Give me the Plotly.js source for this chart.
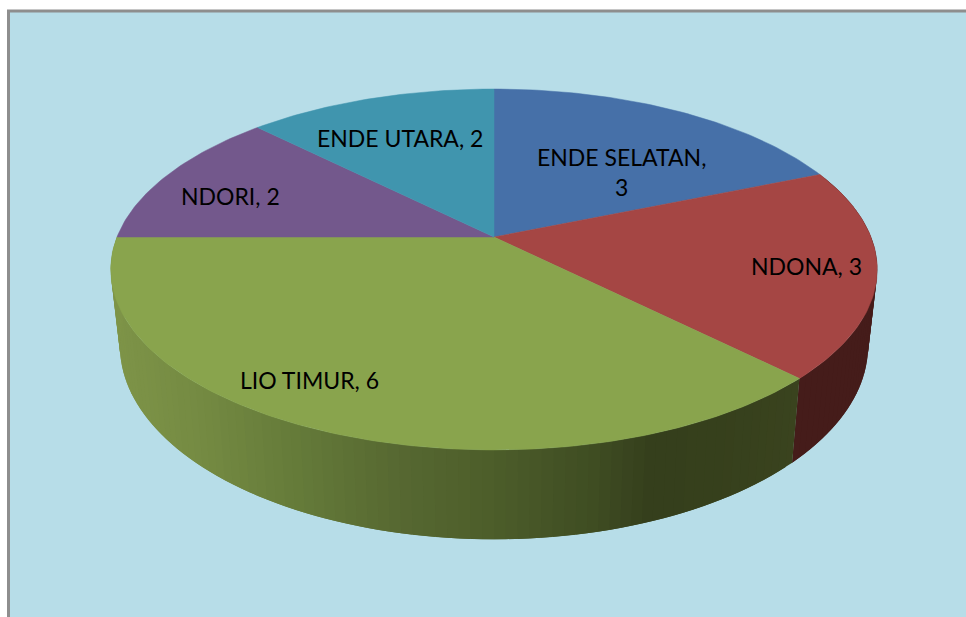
<!DOCTYPE html>
<html>
<head>
<meta charset="utf-8">
<script src="https://cdn.plot.ly/plotly-3.0.1.min.js"></script>
<style>html,body{margin:0;padding:0;background:#fff;overflow:hidden}#chart{width:966px;height:617px}</style>
</head>
<body>
<div id="chart"></div>
<script>
const categories = ["ENDE SELATAN", "NDONA", "LIO TIMUR", "NDORI", "ENDE UTARA"];
const values = [3, 3, 6, 2, 2];
const topColors = ["#4670A8", "#A54644", "#89A44D", "#73588C", "#4095AE"];
const labelTexts = ["ENDE SELATAN,<br>3", "NDONA, 3", "LIO TIMUR, 6", "NDORI, 2", "ENDE UTARA, 2"];
const labelX = [621, 806, 309.5, 230, 400];
const labelY = [171.5, 265.5, 379.5, 195.5, 137.5];
const wallStopsX = [110, 200, 300, 400, 480, 600, 650, 720, 800];
const wallStopsRGB = [[126,148,72],[116,138,66],[100,122,57],[86,104,49],[78,95,43],[62,76,34],[53,63,28],[54,64,28],[58,67,30]];
const redWall = "#451C1A";

// projection of the pie disc on the page
const K = 0.18, CX = 494;
const topRing = {B: 377, A: 174.6, Y0: 237};
const lowRing = {B: 368, A: 187.2, Y0: 311};
function proj(ring, deg) {
  const r = deg * Math.PI / 180, u = Math.sin(r), v = Math.cos(r), w = 1 + K * v;
  return [CX + ring.B * u / w, ring.Y0 - ring.A * v / w];
}
function wallColor(x) {
  let i = 0;
  while (i < wallStopsX.length - 2 && x > wallStopsX[i + 1]) i++;
  const t = Math.max(0, Math.min(1, (x - wallStopsX[i]) / (wallStopsX[i + 1] - wallStopsX[i])));
  const c = wallStopsRGB[i].map((a, j) => Math.round(a + (wallStopsRGB[i + 1][j] - a) * t));
  return `rgb(${c[0]},${c[1]},${c[2]})`;
}
function poly(xs, ys, color, width) {
  return {type: "scatter", mode: "lines", x: xs, y: ys, fill: "toself", fillcolor: color,
          line: {color: color, width: width}, hoverinfo: "skip", showlegend: false};
}
const total = values.reduce((a, b) => a + b, 0);
const edges = [0];
values.forEach(v => edges.push(edges[edges.length - 1] + v / total * 360));

function arc(ring, d0, d1, steps) {
  const out = [];
  for (let s = 0; s <= steps; s++) out.push(proj(ring, d0 + (d1 - d0) * s / steps));
  return out;
}

const traces = [];
// walls: NDONA then LIO TIMUR; each strip runs under the next one so no seams show
function wall(a0, a1, colorFn) {
  const step = 1.5, n = Math.max(1, Math.round((a1 - a0) / step));
  for (let i = 0; i < n; i++) {
    const d0 = a0 + (a1 - a0) * i / n, d1 = d0 + (a1 - a0) / n, d2 = Math.min(a1, d1 + step);
    const up = arc(topRing, d0, d2, 4), low = arc(lowRing, d0, d2, 4).reverse();
    const p = up.concat(low); p.push(p[0]);
    const mx = (proj(topRing, d0)[0] + proj(topRing, d1)[0]) / 2;
    traces.push(poly(p.map(q => q[0]), p.map(q => q[1]), colorFn(mx), 0));
  }
}
wall(edges[1], edges[2], () => redWall);
wall(edges[2], edges[3], wallColor);
// top faces
values.forEach((v, i) => {
  const pts = [[CX, topRing.Y0]].concat(arc(topRing, edges[i], edges[i + 1], Math.ceil(edges[i + 1] - edges[i])));
  pts.push(pts[0]);
  traces.push(poly(pts.map(q => q[0]), pts.map(q => q[1]), topColors[i], 0.5));
});

const layout = {
  width: 966, height: 617, margin: {l: 0, r: 0, t: 0, b: 0},
  paper_bgcolor: "#ffffff", plot_bgcolor: "#ffffff", showlegend: false,
  xaxis: {range: [0, 966], visible: false, fixedrange: true},
  yaxis: {range: [617, 0], visible: false, fixedrange: true},
  shapes: [{type: "rect", xref: "x", yref: "y", x0: 8.5, y0: 11, x1: 990, y1: 640,
            fillcolor: "#B7DDE8", line: {color: "#8E8E8E", width: 3}, layer: "below"}],
  annotations: labelTexts.map((t, i) => ({
    x: labelX[i], y: labelY[i], xref: "x", yref: "y", text: t, showarrow: false,
    align: "center", xanchor: "center", yanchor: "middle",
    font: {family: "Lato, 'Open Sans', sans-serif", size: 23, color: "#000000"}
  }))
};
Plotly.newPlot("chart", traces, layout, {displayModeBar: false, staticPlot: true});
</script>
</body>
</html>
